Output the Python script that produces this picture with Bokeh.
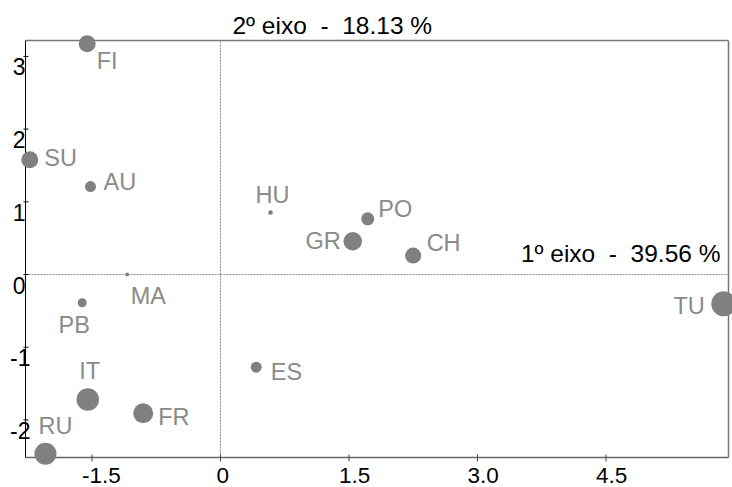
from bokeh.plotting import figure
from bokeh.models import ColumnDataSource, Range1d
from bokeh.core.properties import value
from bokeh.embed import file_html
from bokeh.resources import INLINE

# Países e coordenadas nos dois primeiros eixos da análise
paises = ["FI", "SU", "AU", "MA", "PB", "IT", "FR", "RU",
          "HU", "PO", "GR", "CH", "TU", "ES"]
eixo1 = [-1.556, -2.226, -1.517, -1.089, -1.614, -1.549, -0.902, -2.043,
         0.584, 1.719, 1.544, 2.249, 5.875, 0.417]
eixo2 = [3.173, 1.578, 1.210, 0.000, -0.389, -1.719, -1.908, -2.466,
         0.853, 0.766, 0.458, 0.261, -0.403, -1.275]
# qualidade de representação (0-1), usada para o tamanho dos pontos
qualidade = [0.68, 0.68, 0.44, 0.16, 0.36, 0.90, 0.80, 0.88,
             0.18, 0.52, 0.74, 0.64, 1.00, 0.44]
inercia = [39.56, 18.13]  # % de inércia do 1º e 2º eixos

x_ticks = [-1.5, 0.0, 1.5, 3.0, 4.5]
x_tick_labels = ["-1.5", "0", "1.5", "3.0", "4.5"]
y_ticks = [-2, -1, 0, 1, 2, 3]
y_tick_labels = ["-2", "-1", "0", "1", "2", "3"]

# where each name sits around its point: alignment, dx, dy (px, dy downward)
posicao = {
    "FI": ("left", 9.5, 17), "SU": ("left", 14.5, -2), "AU": ("left", 13, -5),
    "MA": ("left", 3.5, 21), "PB": ("center", -8, 22), "IT": ("center", 2, -28),
    "FR": ("left", 15, 3.5), "RU": ("center", 10, -28), "HU": ("center", 2, -18),
    "PO": ("left", 10.5, -9.5), "GR": ("right", -12, 0), "CH": ("left", 13.5, -12.5),
    "TU": ("right", -19, 2.5), "ES": ("left", 14.5, 4.5),
}

FONT = "Liberation Sans"
GREY_PT = "#808080"
GREY_TXT = "#8a8a8a"

W, H = 732, 487
# plotting box (data limits) and its margins in the canvas (px)
x_lo, x_hi = -2.276, 5.930
y_lo, y_hi = -2.517, 3.219
m_left, m_right, m_top, m_bottom = 25, 4, 40, 30

kx = (x_hi - x_lo) / (W - m_left - m_right)   # data units per pixel
ky = (y_hi - y_lo) / (H - m_top - m_bottom)

p = figure(width=W, height=H, title=None,
           x_range=Range1d(x_lo - m_left * kx, x_hi + m_right * kx),
           y_range=Range1d(y_lo - m_bottom * ky, y_hi + m_top * ky),
           x_axis_location=None, y_axis_location=None,
           output_backend="svg", toolbar_location=None,
           min_border=0)
p.grid.visible = False
p.outline_line_color = None
p.background_fill_color = "white"
p.border_fill_color = "white"

# eixos de referência pontilhados (x = 0 e y = 0)
p.segment(x0=[0, x_lo], y0=[y_lo, 0], x1=[0, x_hi], y1=[y_hi, 0],
          line_color="#8c8c8c", line_width=1, line_dash="2 1")

# moldura: topo e direita cinzentos, base cinzenta, esquerda preta
p.segment(x0=[x_lo, x_hi], y0=[y_hi, y_lo], x1=[x_hi, x_hi], y1=[y_hi, y_hi],
          line_color="#777777", line_width=1.5)
p.segment(x0=[x_lo], y0=[y_lo], x1=[x_hi], y1=[y_lo],
          line_color="#666666", line_width=1.5)
p.segment(x0=[x_lo], y0=[y_lo], x1=[x_lo], y1=[y_hi],
          line_color="black", line_width=1)

# marcas dos eixos
p.segment(x0=x_ticks, y0=[y_lo - 4 * ky] * len(x_ticks),
          x1=x_ticks, y1=[y_lo + 3 * ky] * len(x_ticks),
          line_color="#444444", line_width=1)
p.segment(x0=[x_lo - 2 * kx] * len(y_ticks), y0=y_ticks,
          x1=[x_lo + 3 * kx] * len(y_ticks), y1=y_ticks,
          line_color="black", line_width=1)

# rótulos das marcas
p.text(x=x_ticks, y=[y_lo] * len(x_ticks), text=x_tick_labels,
       x_offset=[-4 if t == "0" else -10 for t in x_tick_labels], y_offset=17.5,
       text_align="left", text_baseline="middle",
       text_font=value(FONT), text_font_size="22.5px", text_color="black")
p.text(x=[x_lo] * len(y_ticks), y=y_ticks, text=y_tick_labels,
       x_offset=[5 if v < 0 else 0 for v in y_ticks], y_offset=10.5,
       text_align="right", text_baseline="middle",
       text_font=value(FONT), text_font_size="23px", text_color="black")

# pontos e nomes dos países
src = ColumnDataSource(dict(
    x=eixo1, y=eixo2, nome=paises,
    tam=[25 * q for q in qualidade],
    alinh=[posicao[n][0] for n in paises],
    dx=[posicao[n][1] for n in paises],
    dy=[posicao[n][2] for n in paises],
))
p.scatter("x", "y", size="tam", source=src, fill_color=GREY_PT,
          line_color=None)
p.text("x", "y", text="nome", source=src, x_offset="dx", y_offset="dy",
       text_align="alinh", text_baseline="middle",
       text_font=value(FONT), text_font_size="23.5px", text_color=GREY_TXT)

# títulos dos eixos (espaços duplos mantidos com espaço não separável)
gap = "\u00a0 -\u00a0 "
p.text(x=[0], y=[y_hi], text=[f"2º eixo{gap}{inercia[1]:.2f} %"],
       x_offset=12, y_offset=-15, text_align="left", text_baseline="middle",
       text_font=value(FONT), text_font_size="24.5px", text_color="black")
p.text(x=[x_hi], y=[0], text=[f"1º eixo{gap}{inercia[0]:.2f} %"],
       x_offset=-8, y_offset=-21, text_align="right", text_baseline="middle",
       text_font=value(FONT), text_font_size="24.5px", text_color="black")

open("out.html", "w").write(file_html(p, INLINE))
